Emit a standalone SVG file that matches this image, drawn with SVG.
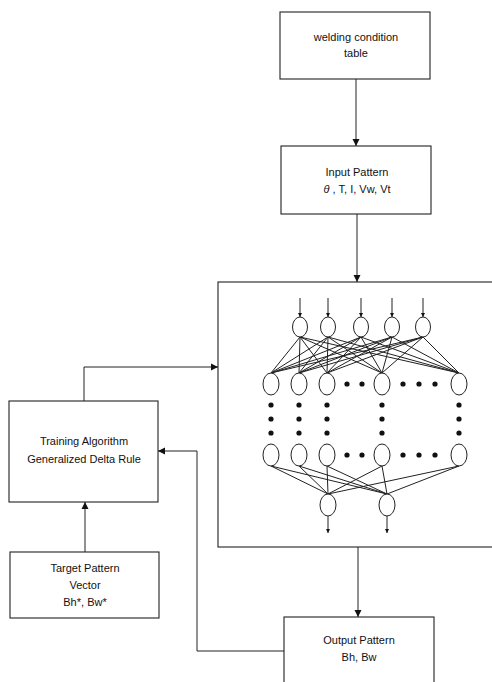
<svg xmlns="http://www.w3.org/2000/svg" width="492" height="682" viewBox="0 0 492 682">
<style>
.box{fill:#fff;stroke:#222;stroke-width:1.1}
.ln{fill:none;stroke:#222;stroke-width:1}
.nd{fill:#fff;stroke:#222;stroke-width:1}
.dot{fill:#111}
text{font-family:"Liberation Sans",Arial,sans-serif;font-size:11px;fill:#111;text-anchor:middle}
</style>
<defs>
<marker id="ah" viewBox="0 0 10 10" refX="10" refY="5" markerWidth="7" markerHeight="9" markerUnits="userSpaceOnUse" orient="auto">
<path d="M0,0 L10,5 L0,10 z" fill="#111"/>
</marker>
<marker id="sa" viewBox="0 0 10 10" refX="10" refY="5" markerWidth="5" markerHeight="4" markerUnits="userSpaceOnUse" orient="auto">
<path d="M0,0 L10,5 L0,10 z" fill="#111"/>
</marker>
</defs>
<rect width="492" height="682" fill="#fff"/>
<g id="connectors">
<line class="ln" x1="356" y1="79" x2="356" y2="146" marker-end="url(#ah)"/>
<line class="ln" x1="357" y1="214" x2="357" y2="282" marker-end="url(#ah)"/>
<line class="ln" x1="358" y1="547" x2="358" y2="617" marker-end="url(#ah)"/>
<polyline class="ln" points="84,401 84,367 218,367" marker-end="url(#ah)"/>
<line class="ln" x1="85" y1="552" x2="85" y2="502" marker-end="url(#ah)"/>
<polyline class="ln" points="284,651 197,651 197,451 158,451" marker-end="url(#ah)"/>
</g>
<g id="welding-table">
<rect class="box" x="280" y="12" width="150" height="67"/>
<text x="356" y="41">welding condition</text>
<text x="356" y="57">table</text>
</g>
<g id="input-pattern">
<rect class="box" x="281" y="146" width="150" height="68"/>
<text x="357" y="176">Input Pattern</text>
<text x="357" y="193"><tspan font-style="italic">θ</tspan> , T, I, Vw, Vt</text>
</g>
<g id="neural-network">
<rect class="box" x="218" y="282" width="290" height="265"/>
<g class="ln">
<line x1="300" y1="337" x2="271" y2="373"/><line x1="300" y1="337" x2="299" y2="373"/><line x1="300" y1="337" x2="327" y2="373"/><line x1="300" y1="337" x2="382" y2="373"/><line x1="300" y1="337" x2="459" y2="373"/>
<line x1="328" y1="337" x2="271" y2="373"/><line x1="328" y1="337" x2="299" y2="373"/><line x1="328" y1="337" x2="327" y2="373"/><line x1="328" y1="337" x2="382" y2="373"/><line x1="328" y1="337" x2="459" y2="373"/>
<line x1="361" y1="337" x2="271" y2="373"/><line x1="361" y1="337" x2="299" y2="373"/><line x1="361" y1="337" x2="327" y2="373"/><line x1="361" y1="337" x2="382" y2="373"/><line x1="361" y1="337" x2="459" y2="373"/>
<line x1="392" y1="337" x2="271" y2="373"/><line x1="392" y1="337" x2="299" y2="373"/><line x1="392" y1="337" x2="327" y2="373"/><line x1="392" y1="337" x2="382" y2="373"/><line x1="392" y1="337" x2="459" y2="373"/>
<line x1="423" y1="337" x2="271" y2="373"/><line x1="423" y1="337" x2="299" y2="373"/><line x1="423" y1="337" x2="327" y2="373"/><line x1="423" y1="337" x2="382" y2="373"/><line x1="423" y1="337" x2="459" y2="373"/>
<line x1="271" y1="466" x2="328" y2="494"/><line x1="271" y1="466" x2="387" y2="494"/>
<line x1="299" y1="466" x2="328" y2="494"/><line x1="299" y1="466" x2="387" y2="494"/>
<line x1="327" y1="466" x2="328" y2="494"/><line x1="327" y1="466" x2="387" y2="494"/>
<line x1="382" y1="466" x2="328" y2="494"/><line x1="382" y1="466" x2="387" y2="494"/>
<line x1="459" y1="466" x2="328" y2="494"/><line x1="459" y1="466" x2="387" y2="494"/>
</g>
<g class="ln">
<line x1="300" y1="298" x2="300" y2="317" marker-end="url(#sa)"/>
<line x1="328" y1="298" x2="328" y2="317" marker-end="url(#sa)"/>
<line x1="361" y1="298" x2="361" y2="317" marker-end="url(#sa)"/>
<line x1="392" y1="298" x2="392" y2="317" marker-end="url(#sa)"/>
<line x1="423" y1="298" x2="423" y2="317" marker-end="url(#sa)"/>
<line x1="328" y1="516" x2="328" y2="533" marker-end="url(#sa)"/>
<line x1="387" y1="516" x2="387" y2="533" marker-end="url(#sa)"/>
</g>
<g class="nd">
<ellipse cx="300" cy="327" rx="7.5" ry="10"/><ellipse cx="328" cy="327" rx="7.5" ry="10"/><ellipse cx="361" cy="327" rx="7.5" ry="10"/><ellipse cx="392" cy="327" rx="7.5" ry="10"/><ellipse cx="423" cy="327" rx="7.5" ry="10"/>
<ellipse cx="271" cy="384" rx="8" ry="11"/><ellipse cx="299" cy="384" rx="8" ry="11"/><ellipse cx="327" cy="384" rx="8" ry="11"/><ellipse cx="382" cy="384" rx="8" ry="11"/><ellipse cx="459" cy="384" rx="8" ry="11"/>
<ellipse cx="271" cy="455" rx="8" ry="11"/><ellipse cx="299" cy="455" rx="8" ry="11"/><ellipse cx="327" cy="455" rx="8" ry="11"/><ellipse cx="382" cy="455" rx="8" ry="11"/><ellipse cx="459" cy="455" rx="8" ry="11"/>
<ellipse cx="328" cy="505" rx="8" ry="11"/><ellipse cx="387" cy="505" rx="8" ry="11"/>
</g>
<g class="dot">
<circle cx="347" cy="384" r="2.6"/><circle cx="362" cy="384" r="2.6"/><circle cx="403" cy="384" r="2.6"/><circle cx="419" cy="384" r="2.6"/><circle cx="435" cy="384" r="2.6"/>
<circle cx="347" cy="455" r="2.6"/><circle cx="362" cy="455" r="2.6"/><circle cx="403" cy="455" r="2.6"/><circle cx="419" cy="455" r="2.6"/><circle cx="435" cy="455" r="2.6"/>
<circle cx="271" cy="405" r="2.6"/><circle cx="271" cy="419" r="2.6"/><circle cx="271" cy="433" r="2.6"/>
<circle cx="299" cy="405" r="2.6"/><circle cx="299" cy="419" r="2.6"/><circle cx="299" cy="433" r="2.6"/>
<circle cx="327" cy="405" r="2.6"/><circle cx="327" cy="419" r="2.6"/><circle cx="327" cy="433" r="2.6"/>
<circle cx="382" cy="405" r="2.6"/><circle cx="382" cy="419" r="2.6"/><circle cx="382" cy="433" r="2.6"/>
<circle cx="459" cy="405" r="2.6"/><circle cx="459" cy="419" r="2.6"/><circle cx="459" cy="433" r="2.6"/>
</g>
</g>
<g id="training-algorithm">
<rect class="box" x="9" y="401" width="149" height="101"/>
<text x="84" y="445">Training Algorithm</text>
<text x="84" y="463">Generalized Delta Rule</text>
</g>
<g id="target-pattern">
<rect class="box" x="10" y="552" width="149" height="66"/>
<text x="85" y="572">Target Pattern</text>
<text x="85" y="589">Vector</text>
<text x="85" y="606">Bh*, Bw*</text>
</g>
<g id="output-pattern">
<rect class="box" x="284" y="617" width="150" height="75"/>
<text x="359" y="644">Output Pattern</text>
<text x="359" y="661">Bh, Bw</text>
</g>
</svg>
